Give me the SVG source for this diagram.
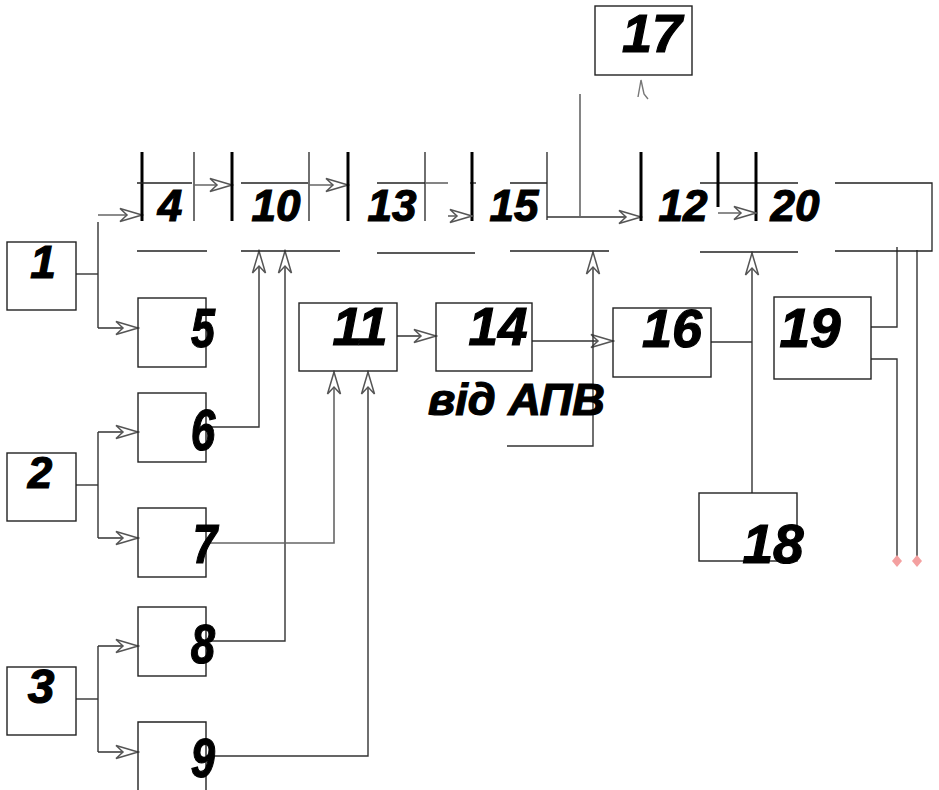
<svg xmlns="http://www.w3.org/2000/svg" width="939" height="790" viewBox="0 0 939 790">
<style>
.box{fill:none;stroke:#222;stroke-width:1.4}
.ln{fill:none;stroke:#333;stroke-width:1.4}
.gr{fill:none;stroke:#666;stroke-width:1.6}
.thick{fill:none;stroke:#000;stroke-width:3}
.thin{fill:none;stroke:#222;stroke-width:1.3}
.t{font-family:"Liberation Sans",Arial,sans-serif;font-weight:bold;font-style:italic;fill:#000;stroke:#000;stroke-width:1.2;text-anchor:middle}
.big{font-size:54px}
.mid{font-size:44px}
</style>
<defs>
<marker id="ar" viewBox="-24 -8 26 16" refX="0" refY="0" markerWidth="26" markerHeight="16" markerUnits="userSpaceOnUse" orient="auto">
<path d="M0,0 L-22,-6.5 L-15,0 L-22,6.5 Z" fill="#fff" stroke="#555" stroke-width="1.5" stroke-linejoin="miter"/>
</marker>
</defs>
<rect width="939" height="790" fill="#fff"/>

<g id="connectors">
<path class="ln" d="M76,274 H98"/>
<path class="ln" d="M98,222 V328"/>
<path class="gr" d="M98,215 H142" marker-end="url(#ar)"/>
<path class="ln" d="M98,328 H138" marker-end="url(#ar)"/>
<path class="ln" d="M76,485 H98"/>
<path class="ln" d="M98,432 V538"/>
<path class="ln" d="M98,432 H138" marker-end="url(#ar)"/>
<path class="ln" d="M98,538 H138" marker-end="url(#ar)"/>
<path class="ln" d="M76,699 H98"/>
<path class="ln" d="M98,646 V752"/>
<path class="ln" d="M98,646 H138" marker-end="url(#ar)"/>
<path class="ln" d="M98,752 H138" marker-end="url(#ar)"/>
<path class="ln" d="M206,427 H259 V251" marker-end="url(#ar)"/>
<path class="ln" d="M206,641 H285 V251" marker-end="url(#ar)"/>
<path class="gr" d="M206,543 H334 V372" marker-end="url(#ar)"/>
<path class="ln" d="M206,756 H368 V372" marker-end="url(#ar)"/>
<path class="ln" d="M397,336 H436" marker-end="url(#ar)"/>
<path class="ln" d="M532,341 H613" marker-end="url(#ar)"/>
<path class="ln" d="M507,446 H593 V252" marker-end="url(#ar)"/>
<path class="ln" d="M711,342 H752"/>
<path class="ln" d="M752,493 V253" marker-end="url(#ar)"/>
<path class="ln" d="M871,327 H897 V247"/>
<path class="ln" d="M871,359 H897 V558"/>
<path class="ln" d="M917,250 V558"/>
<path d="M897,555 L902,561 L897,567 L892,561 Z" fill="#f4a0a0"/>
<path d="M917,555 L922,561 L917,567 L912,561 Z" fill="#f4a0a0"/>
<path class="thick" d="M142,152 V221"/>
<path class="thin" d="M137,183 H192"/>
<path class="thin" d="M194,152 V221"/>
<path class="gr" d="M194,185 H232" marker-end="url(#ar)"/>
<path class="thin" d="M137,251 H207"/>
<path class="thick" d="M232,152 V221"/>
<path class="thin" d="M241,183 H308"/>
<path class="thin" d="M309,152 V221"/>
<path class="gr" d="M309,185 H348" marker-end="url(#ar)"/>
<path class="thick" d="M348,152 V221"/>
<path class="thin" d="M241,251 H340"/>
<path class="thin" d="M377,183 H425"/>
<path class="thin" d="M425,152 V221"/>
<path class="gr" d="M425,183 H448"/>
<path class="thin" d="M470,183 H476"/>
<path class="thick" d="M472,152 V221"/>
<path class="gr" d="M448,216 H472" marker-end="url(#ar)"/>
<path class="thin" d="M377,253 H475"/>
<path class="thin" d="M510,183 H547"/>
<path class="thin" d="M547,152 V220"/>
<path class="ln" d="M547,217 H641" marker-end="url(#ar)"/>
<path class="thick" d="M641,152 V221"/>
<path class="gr" d="M580,94 V217"/>
<path class="thin" d="M510,251 H609"/>
<path class="thin" d="M700,183 H798"/>
<path class="thick" d="M718,152 V207"/>
<path class="thick" d="M756,152 V221"/>
<path class="gr" d="M718,213 H756" marker-end="url(#ar)"/>
<path class="thin" d="M700,252 H798"/>
<path class="thin" d="M835,183 H932 V251 H835"/>
<path d="M638,97 L641,80 L644,94 L648,99" fill="none" stroke="#777" stroke-width="1.4"/>
</g>

<g id="n1"><rect class="box" x="7" y="242" width="69" height="68"/><text class="t" x="43" y="278" font-size="46">1</text></g>
<g id="n2"><rect class="box" x="7" y="453" width="69" height="68"/><text class="t" x="40" y="488" font-size="44">2</text></g>
<g id="n3"><rect class="box" x="7" y="667" width="69" height="68"/><text class="t" x="41" y="703" font-size="48">3</text></g>
<g id="n5"><rect class="box" x="138" y="298" width="68" height="69"/><text class="t" transform="translate(203,347) scale(0.78,1)" font-size="55">5</text></g>
<g id="n6"><rect class="box" x="138" y="393" width="68" height="69"/><text class="t" transform="translate(203,450) scale(0.76,1)" font-size="58">6</text></g>
<g id="n7"><rect class="box" x="138" y="508" width="68" height="69"/><text class="t" transform="translate(205,563) scale(0.8,1)" font-size="55">7</text></g>
<g id="n8"><rect class="box" x="138" y="607" width="68" height="69"/><text class="t" transform="translate(203,663) scale(0.78,1)" font-size="56">8</text></g>
<g id="n9"><path class="box" d="M138,800 V722 H206 V800"/><text class="t" transform="translate(203,777) scale(0.78,1)" font-size="56">9</text></g>
<g id="n4"><text class="t mid" x="170" y="221">4</text></g>
<g id="n10"><text class="t mid" x="276" y="221">10</text></g>
<g id="n13"><text class="t mid" x="392" y="221">13</text></g>
<g id="n15"><text class="t mid" x="514" y="221">15</text></g>
<g id="n12"><text class="t mid" x="683" y="221">12</text></g>
<g id="n20"><text class="t mid" x="795" y="221">20</text></g>
<g id="n17"><rect class="box" x="595" y="6" width="97" height="69"/><text class="t big" x="652" y="52">17</text></g>
<g id="n11"><rect class="box" x="299" y="303" width="98" height="68"/><text class="t" x="360" y="345" font-size="53">11</text></g>
<g id="n14"><rect class="box" x="436" y="303" width="96" height="68"/><text class="t" x="498" y="345" font-size="53">14</text></g>
<g id="n16"><rect class="box" x="613" y="308" width="98" height="69"/><text class="t" x="672" y="347" font-size="54">16</text></g>
<g id="n19"><rect class="box" x="774" y="297" width="97" height="82"/><text class="t" x="810" y="347" font-size="55">19</text></g>
<g id="n18"><rect class="box" x="699" y="493" width="98" height="68"/><text class="t" x="773" y="563" font-size="55">18</text></g>
<g id="apv"><text class="t" x="428" y="415" font-size="44" textLength="177" lengthAdjust="spacingAndGlyphs" style="text-anchor:start">від АПВ</text></g>
</svg>
